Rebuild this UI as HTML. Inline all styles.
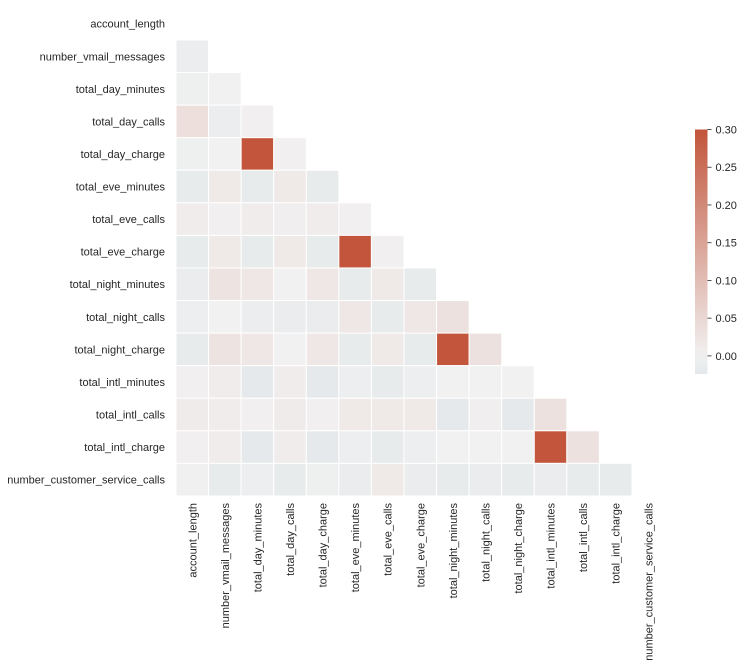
<!DOCTYPE html>
<html><head><meta charset="utf-8"><style>
body{margin:0;background:#fff;}
svg{display:block;font-family:"Liberation Sans",Arial,sans-serif;}
text{fill:#262626;font-size:11px;}
</style></head><body>
<svg id="chart" width="745" height="671" xmlns="http://www.w3.org/2000/svg">
<defs><linearGradient id="cbg" x1="0" y1="1" x2="0" y2="0"></linearGradient></defs>
<g id="cells"></g>
<g id="rowlabels"></g>
<g id="collabels"></g>
<g id="cbar"></g>
</svg>
<script>
const labels=["account_length","number_vmail_messages","total_day_minutes","total_day_calls","total_day_charge","total_eve_minutes","total_eve_calls","total_eve_charge","total_night_minutes","total_night_calls","total_night_charge","total_intl_minutes","total_intl_calls","total_intl_charge","number_customer_service_calls"];
const lowerValues=[
[],
[-0.01],
[-0.005,0.0],
[0.035,-0.01,0.003],
[-0.005,0.0,1.0,0.003],
[-0.015,0.015,-0.015,0.015,-0.015],
[0.01,0.003,0.01,0.005,0.01,0.003],
[-0.015,0.015,-0.015,0.015,-0.015,1.0,0.003],
[-0.012,0.025,0.02,0.0,0.02,-0.015,0.015,-0.015],
[-0.008,0.0,-0.01,-0.012,-0.012,0.02,-0.015,0.02,0.03],
[-0.015,0.025,0.02,0.0,0.02,-0.015,0.015,-0.015,1.0,0.03],
[0.003,0.01,-0.02,0.01,-0.02,-0.008,-0.015,-0.008,0.0,0.0,0.0],
[0.012,0.01,0.003,0.012,0.003,0.015,0.015,0.015,-0.02,0.005,-0.02,0.03],
[0.003,0.01,-0.02,0.01,-0.02,-0.008,-0.015,-0.008,0.0,0.0,0.0,1.0,0.03],
[-0.002,-0.015,-0.008,-0.015,-0.005,-0.012,0.015,-0.012,-0.015,-0.012,-0.015,-0.012,-0.015,-0.015]
];
const cbTicks=[0.00,0.05,0.10,0.15,0.20,0.25,0.30];
const vmax=0.3, vmin=-0.024;
const NS="http://www.w3.org/2000/svg";
const x0=176,y0=7.4,cs=32.57;
const xPos=j=>x0+j*cs, yPos=i=>y0+i*cs;
const blue=[61,125,148],mid=[241,241,241],red=[194,85,59];
function color(v){v=Math.max(-vmax,Math.min(vmax,v));const t=Math.abs(v)/vmax;const e=v<0?blue:red;
return "rgb("+mid.map((m,k)=>Math.round(m+(e[k]-m)*t)).join(",")+")";}
function el(t,a){const e=document.createElementNS(NS,t);for(const k in a)e.setAttribute(k,a[k]);return e;}
const cells=document.getElementById('cells');
lowerValues.forEach((row,i)=>row.forEach((v,j)=>{
 const r=el('rect',{x:xPos(j),y:yPos(i),width:cs,height:cs,fill:color(v),stroke:'#fff','stroke-width':1});
 
 
 cells.appendChild(r);}));
const rl=document.getElementById('rowlabels'),cl=document.getElementById('collabels');
labels.forEach((l,i)=>{
 const t=el('text',{x:165,y:yPos(i)+cs/2+4,'text-anchor':'end'});t.textContent=l;
 
 
 rl.appendChild(t);
 const cx=xPos(i)+cs/2+4;
 const c=el('text',{x:0,y:0,'text-anchor':'end',transform:'translate('+cx+',503) rotate(-90)'});c.textContent=l;
 
 
 cl.appendChild(c);
});
const cb=document.getElementById('cbar');
const cbTop=129.5,cbBot=374,cbX=695,cbW=12.5;
const cy=v=>cbBot-(v-vmin)/(vmax-vmin)*(cbBot-cbTop);
const g=document.getElementById('cbg');
for(let k=0;k<=20;k++){const v=vmin+(vmax-vmin)*k/20;g.appendChild(el('stop',{offset:(k/20),'stop-color':color(v)}));}
const bar=el('rect',{x:cbX,y:cbTop,width:cbW,height:cbBot-cbTop,fill:'url(#cbg)'});


cb.appendChild(bar);
cbTicks.forEach(v=>{
 const y=cy(v);
 const ln=el('line',{x1:cbX+cbW,x2:cbX+cbW+4,y1:y,y2:y,stroke:'#262626','stroke-width':0.8});
 
 
 cb.appendChild(ln);
 const t=el('text',{x:cbX+cbW+8,y:y+4});t.textContent=v.toFixed(2);
 
 
 cb.appendChild(t);
});
</script>
</body></html>
